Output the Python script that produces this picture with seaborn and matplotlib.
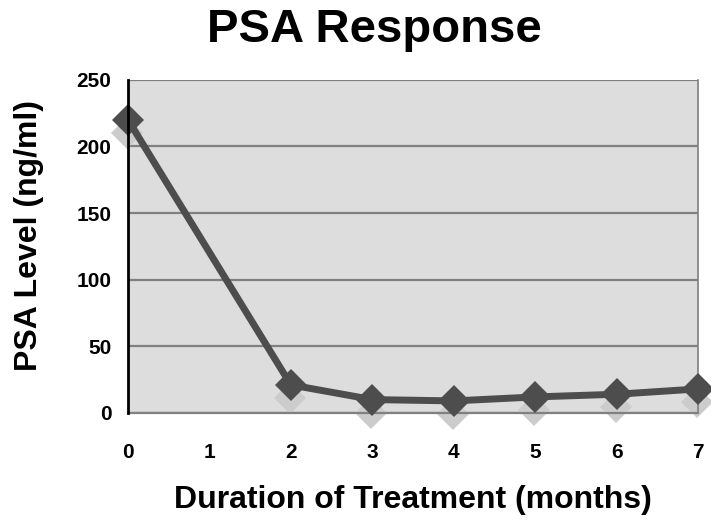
import matplotlib
matplotlib.use("Agg")
import matplotlib.pyplot as plt
import matplotlib.transforms as mtransforms
import seaborn as sns
import pandas as pd

# values
months = [0, 2, 3, 4, 5, 6, 7]
psa = [220, 21, 10, 9, 12, 14, 18]
x_ticks = [0, 1, 2, 3, 4, 5, 6, 7]
y_ticks = [0, 50, 100, 150, 200, 250]

df = pd.DataFrame({"month": months, "psa": psa})

sns.set_style("white")
plt.rcParams["font.family"] = ["Liberation Sans", "DejaVu Sans"]
plt.rcParams["font.weight"] = "bold"
plt.rcParams["text.color"] = "black"
plt.rcParams["axes.labelcolor"] = "black"
plt.rcParams["xtick.color"] = "black"
plt.rcParams["ytick.color"] = "black"

fig = plt.figure(figsize=(7.11, 5.22), dpi=100)
ax = fig.add_axes([0.18, 0.209, 0.802, 0.638])
ax.set_facecolor("#dddddd")

# marker shadows, shifted down a little
shadow = mtransforms.offset_copy(ax.transData, fig=fig, x=-1, y=-13, units="dots")
sns.lineplot(data=df, x="month", y="psa", ax=ax, linestyle="none", marker="D",
             markersize=16, color="#cccccc", markeredgewidth=0,
             transform=shadow, clip_on=False, zorder=2)

sns.lineplot(data=df, x="month", y="psa", ax=ax, color="#4d4d4d", linewidth=5,
             marker="D", markersize=16, markeredgewidth=0, clip_on=False, zorder=3)

ax.set_xlim(0, 7)
ax.set_ylim(0, 250)
ax.set_xticks(x_ticks)
ax.set_yticks(y_ticks)
ax.yaxis.grid(True, color="#808080", linewidth=1.6)
ax.set_axisbelow(True)

ax.tick_params(axis="x", length=0, pad=22, labelsize=15, labelcolor="black")
ax.tick_params(axis="y", length=7, width=1.6, color="#808080", pad=5,
               labelsize=15, labelcolor="black")
for lab in ax.get_xticklabels() + ax.get_yticklabels():
    lab.set_fontweight("bold")

ax.spines["left"].set_color("black")
ax.spines["left"].set_linewidth(2)
ax.spines["left"].set_zorder(4)
ax.spines["bottom"].set_color("#808080")
ax.spines["bottom"].set_linewidth(1.6)
ax.spines["right"].set_color("#808080")
ax.spines["right"].set_linewidth(1.2)
ax.spines["top"].set_visible(False)

ax.set_xlabel("Duration of Treatment (months)", fontsize=23, fontweight="bold",
              color="black", va="center")
ax.xaxis.set_label_coords(0.5, -0.261)
ax.set_ylabel("PSA Level (ng/ml)", fontsize=23, fontweight="bold", color="black",
              va="center")
ax.yaxis.set_label_coords(-0.173, 0.532)
fig.suptitle("PSA Response", x=0.527, y=0.942, va="center", fontsize=34,
             fontweight="bold", color="black")

fig.savefig("out.png", dpi=100)
